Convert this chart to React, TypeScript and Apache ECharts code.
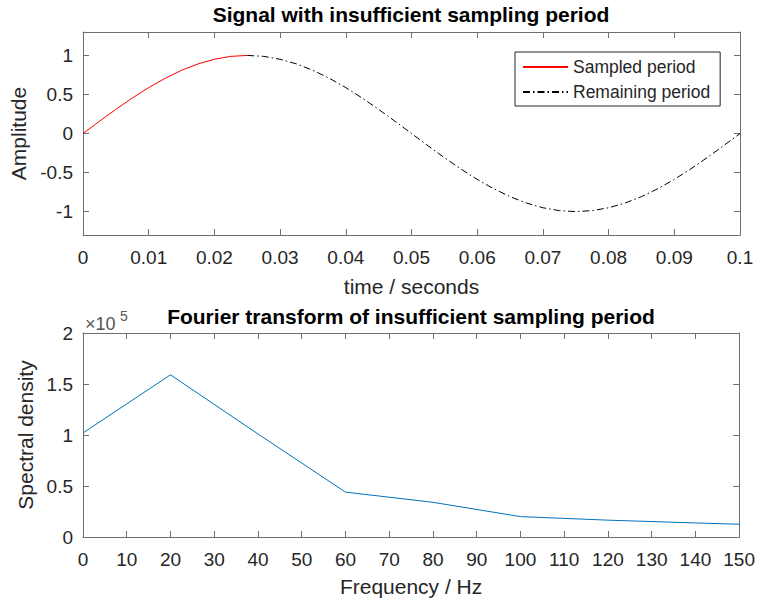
import React, { useEffect, useRef } from "react";
import * as echarts from "echarts";

// Top plot: time (s) and amplitude
const timeSampled = [0, 0.0025, 0.005, 0.0075, 0.01, 0.0125, 0.015, 0.0175, 0.02, 0.0225, 0.025];
const ampSampled = [0, 0.156, 0.309, 0.454, 0.588, 0.707, 0.809, 0.891, 0.951, 0.988, 1];

const timeRemaining = [
  0.025, 0.0275, 0.03, 0.0325, 0.035, 0.0375, 0.04, 0.0425, 0.045, 0.0475, 0.05,
  0.0525, 0.055, 0.0575, 0.06, 0.0625, 0.065, 0.0675, 0.07, 0.0725, 0.075,
  0.0775, 0.08, 0.0825, 0.085, 0.0875, 0.09, 0.0925, 0.095, 0.0975, 0.1,
];
const ampRemaining = [
  1, 0.988, 0.951, 0.891, 0.809, 0.707, 0.588, 0.454, 0.309, 0.156, 0,
  -0.156, -0.309, -0.454, -0.588, -0.707, -0.809, -0.891, -0.951, -0.988, -1,
  -0.988, -0.951, -0.891, -0.809, -0.707, -0.588, -0.454, -0.309, -0.156, 0,
];

// Bottom plot: frequency (Hz) and spectral density (x 1e5)
const freqHz = [0, 20, 40, 60, 80, 100, 120, 140, 150];
const spectral = [1.02, 1.59, 1.01, 0.44, 0.34, 0.2, 0.165, 0.138, 0.125];

const amplitudeTicks = [-1, -0.5, 0, 0.5, 1];

const TXT = "#262626";
const LINE = "#6e6e6e";
const FONT = "Liberation Sans, Arial, Helvetica, sans-serif";

export default function App() {
  const ref = useRef<HTMLDivElement>(null);
  useEffect(() => {
    if (!ref.current) return;
    const chart = echarts.init(ref.current, undefined, { renderer: "svg" });

    const pairs = (xs: number[], ys: number[]) => xs.map((x, i) => [x, ys[i]]);

    const tick = (extra: any = {}) => ({ show: true, inside: true, length: 6, lineStyle: { color: LINE }, ...extra });
    const boxAxis = (extra: any) => ({
      axisLine: { show: true, onZero: false, lineStyle: { color: LINE, width: 1 } },
      axisTick: tick(),
      splitLine: { show: false },
      ...extra,
    });
    const labelStyle = { color: TXT, fontSize: 19, fontFamily: FONT };
    const nameStyle = { color: TXT, fontSize: 21, fontFamily: FONT };
    const titleStyle = { fontSize: 21, fontWeight: "bold", color: "#000", fontFamily: FONT };

    const option: any = {
      animation: false,
      backgroundColor: "#ffffff",
      title: [
        { text: "Signal with insufficient sampling period", left: 411, textAlign: "center", top: 4, padding: 0, textStyle: titleStyle },
        { text: "Fourier transform of insufficient sampling period", left: 411, textAlign: "center", top: 306, padding: 0, textStyle: titleStyle },
      ],
      grid: [
        { left: 83, right: 18, top: 32, height: 203, containLabel: false },
        { left: 83, right: 18, top: 333, height: 204, containLabel: false },
      ],
      legend: {
        data: ["Sampled period", "Remaining period"],
        orient: "vertical",
        left: 515,
        top: 52,
        borderColor: TXT,
        borderWidth: 1,
        backgroundColor: "#fff",
        padding: [6, 10, 5, 7],
        itemWidth: 45,
        itemHeight: 18,
        itemGap: 7,
        itemStyle: { opacity: 0 },
        textStyle: { color: TXT, fontSize: 17.5, fontFamily: FONT },
      },
      xAxis: [
        boxAxis({
          type: "value", gridIndex: 0, position: "bottom", min: 0, max: 0.1, interval: 0.01,
          axisLabel: { ...labelStyle, margin: 13 },
          name: "time / seconds", nameLocation: "middle", nameGap: 41, nameTextStyle: nameStyle,
        }),
        boxAxis({
          type: "value", gridIndex: 0, position: "top", min: 0, max: 0.1, interval: 0.01,
          axisLabel: { show: false },
        }),
        boxAxis({
          type: "value", gridIndex: 1, position: "bottom", min: 0, max: 150, interval: 10,
          axisLabel: { ...labelStyle, margin: 13 },
          name: "Frequency / Hz", nameLocation: "middle", nameGap: 39, nameTextStyle: nameStyle,
        }),
        boxAxis({
          type: "value", gridIndex: 1, position: "top", min: 0, max: 150, interval: 10,
          axisLabel: { show: false },
        }),
      ],
      yAxis: [
        boxAxis({
          type: "value", gridIndex: 0, position: "left", min: -1.3, max: 1.3,
          axisTick: tick({ customValues: amplitudeTicks }),
          axisLabel: { ...labelStyle, margin: 10, customValues: amplitudeTicks },
          name: "Amplitude", nameLocation: "middle", nameGap: 50, nameTextStyle: nameStyle,
        }),
        boxAxis({
          type: "value", gridIndex: 0, position: "right", min: -1.3, max: 1.3,
          axisTick: tick({ customValues: amplitudeTicks }),
          axisLabel: { show: false, customValues: amplitudeTicks },
        }),
        boxAxis({
          type: "value", gridIndex: 1, position: "left", min: 0, max: 2, interval: 0.5,
          axisLabel: { ...labelStyle, margin: 10 },
          name: "Spectral density", nameLocation: "middle", nameGap: 44, nameTextStyle: nameStyle,
        }),
        boxAxis({
          type: "value", gridIndex: 1, position: "right", min: 0, max: 2, interval: 0.5,
          axisLabel: { show: false },
        }),
      ],
      graphic: [
        { type: "text", left: 85, top: 315, style: { text: "×10", fill: "#555", fontSize: 18, fontFamily: FONT } },
        { type: "text", left: 120, top: 309, style: { text: "5", fill: "#555", fontSize: 14, fontFamily: FONT } },
      ],
      series: [
        {
          name: "Sampled period",
          type: "line",
          xAxisIndex: 0,
          yAxisIndex: 0,
          data: pairs(timeSampled, ampSampled),
          symbol: "none",
          lineStyle: { color: "#ff0000", width: 1 },
          itemStyle: { color: "#ff0000" },
        },
        {
          name: "Remaining period",
          type: "line",
          xAxisIndex: 0,
          yAxisIndex: 0,
          data: pairs(timeRemaining, ampRemaining),
          symbol: "none",
          lineStyle: { color: "#000000", width: 1, type: [7, 3, 1.5, 3] },
          itemStyle: { color: "#000000" },
        },
        {
          name: "Spectrum",
          type: "line",
          xAxisIndex: 2,
          yAxisIndex: 2,
          data: pairs(freqHz, spectral),
          symbol: "none",
          lineStyle: { color: "#0072BD", width: 1 },
          itemStyle: { color: "#0072BD" },
        },
      ],
    };
    chart.setOption(option);
    return () => chart.dispose();
  }, []);
  return <div ref={ref} style={{ width: 758, height: 603, position: "absolute", left: 0, top: 0 }} />;
}
